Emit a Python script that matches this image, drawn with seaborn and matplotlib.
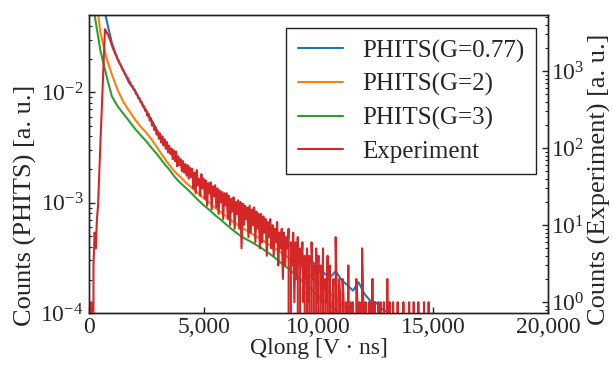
import numpy as np
import pandas as pd
import matplotlib
matplotlib.use("Agg")
import matplotlib.pyplot as plt
import seaborn as sns
from matplotlib.ticker import FuncFormatter, LogLocator, NullFormatter

# ---------------- data ----------------
sim_x = [250, 500, 750, 1000, 1250, 1500, 1750, 2000, 2250, 2500, 2750, 3000, 3250, 3500,
         3750, 4000, 4250, 4500, 4750, 5000, 5250, 5500, 5750, 6000, 6250, 6500, 6750,
         7000, 7250, 7500, 7750, 8000, 8250, 8500, 8750, 9000, 9250, 9500, 9750, 10000,
         10250, 10500, 10750, 11000, 11250, 11500, 11750, 12000, 12250, 12500, 12750,
         13000, 13250]

g077 = [0.2, 0.09, 0.047, 0.028, 0.020, 0.0158, 0.0122, 0.0104, 0.0083, 0.0068, 0.0055,
        0.0044, 0.0037, 0.0031, 0.0027, 0.0023, 0.0020, 0.00182, 0.00162, 0.00148, 0.00132,
        0.00122, 0.00110, 0.00101, 0.00094, 0.00088, 0.00080, 0.00079, 0.00071, 0.00066,
        0.00058, 0.00053, 0.00049, 0.00043, 0.00041, 0.00036, 0.00034, 0.00030, 0.00029,
        0.00026, 0.00023, 0.00021, 0.00024, 0.00020, 0.00018, 0.00016, 0.00019, 0.00015,
        0.00013, 0.000125, 0.00011, 0.000102, 0.00009]

g2_x = sim_x[:47]
g2 = [0.09, 0.035, 0.021, 0.0145, 0.0105, 0.0082, 0.0068, 0.0057, 0.0049, 0.0043, 0.0037,
      0.0031, 0.0026, 0.0022, 0.0019, 0.0017, 0.00150, 0.00136, 0.00122, 0.00110, 0.00100,
      0.00090, 0.00082, 0.00075, 0.00068, 0.00063, 0.00058, 0.00054, 0.00050, 0.00047,
      0.00043, 0.00040, 0.00037, 0.00034, 0.00031, 0.00028, 0.00026, 0.00023, 0.00021,
      0.00019, 0.00017, 0.00015, 0.00014, 0.00012, 0.00011, 0.0001, 0.00009]

g3_x = sim_x[:44]
g3 = [0.05, 0.024, 0.0145, 0.0092, 0.0075, 0.0064, 0.0055, 0.0047, 0.0041, 0.0036, 0.0031,
      0.0027, 0.0023, 0.0020, 0.0017, 0.00150, 0.00135, 0.00120, 0.00106, 0.00095, 0.00086,
      0.00077, 0.00070, 0.00063, 0.00057, 0.00052, 0.00048, 0.00045, 0.00042, 0.00039,
      0.00036, 0.00033, 0.00030, 0.00027, 0.00025, 0.00022, 0.00020, 0.00018, 0.00016,
      0.00014, 0.00013, 0.00012, 0.000105, 0.00009]

exp_x = list(range(0, 15001, 50))
exp_counts = [
    0, 0, 1, 0, 3, 8, 5, 12, 18, 47,
    112, 265, 630, 1480, 3500, 3320, 3080, 2920, 2630, 2420,
    2180, 1950, 1850, 1650, 1580, 1420, 1360, 1230, 1180, 1060,
    1030, 935, 910, 830, 810, 735, 720, 650, 640, 575,
    570, 505, 500, 445, 450, 395, 400, 345, 350, 305,
    310, 262, 280, 228, 245, 196, 215, 172, 190, 150,
    165, 132, 155, 118, 142, 108, 130, 98, 120, 88,
    108, 84, 99, 72, 94, 68, 90, 58, 78, 60,
    72, 50, 68, 48, 62, 44, 60, 40, 56, 42,
    54, 30, 48, 26, 52, 33, 40, 24, 46, 30,
    40, 22, 38, 18, 35, 26, 36, 16, 32, 24,
    33, 17, 30, 14, 28, 20, 27, 12, 26, 18,
    26, 12, 24, 10, 22, 15, 23, 9, 20, 14,
    21, 9, 20, 5, 19, 10, 18, 12, 17, 7,
    18, 8, 16, 10, 17, 6, 15, 9, 14, 5,
    14, 6, 13, 8, 12, 4, 11, 7, 12, 5,
    10, 4, 9, 6, 11, 3, 8, 5, 9, 2,
    8, 3, 7, 5, 9, 0, 6, 3, 8, 1,
    6, 2, 7, 0, 5, 3, 6, 1, 4, 0,
    5, 1, 4, 0, 6, 2, 3, 0, 5, 1,
    4, 0, 3, 1, 5, 0, 2, 1, 4, 0,
    3, 0, 1, 2, 0, 7, 1, 0, 2, 1,
    0, 2, 1, 0, 1, 0, 3, 0, 1, 0,
    1, 0, 0, 2, 1, 0, 1, 0, 5, 1,
    0, 1, 0, 0, 1, 1, 0, 2, 0, 1,
    0, 0, 1, 0, 1, 0, 0, 1, 0, 0,
    2, 0, 1, 0, 0, 1, 0, 0, 0, 1,
    0, 0, 0, 0, 1, 0, 0, 0, 0, 1,
    0, 0, 0, 1, 0, 0, 0, 1, 0, 0,
    0, 0, 1, 0, 0, 0, 1, 0, 0, 0,
    0]

x_ticks = [0, 5000, 10000, 15000, 20000]

# ---------------- style ----------------
sns.set_theme(style="ticks")
plt.rcParams["font.family"] = ["Liberation Serif", "DejaVu Serif"]
plt.rcParams["mathtext.fontset"] = "stix"
plt.rcParams["axes.edgecolor"] = "#222222"
plt.rcParams["axes.linewidth"] = 1.0

FS_TICK = 17
FS_LAB = 19
FS_LEG = 18
fig = plt.figure(figsize=(6.13, 3.68), dpi=100)
ax = fig.add_axes([0.145, 0.149, 0.749, 0.810])
ax2 = ax.twinx()

pal = sns.color_palette("tab10")
df1 = pd.DataFrame({"x": sim_x, "y": g077})
df2 = pd.DataFrame({"x": g2_x, "y": g2})
df3 = pd.DataFrame({"x": g3_x, "y": g3})
dfe = pd.DataFrame({"x": exp_x, "y": exp_counts})

sns.lineplot(data=df1, x="x", y="y", ax=ax, color=pal[0], lw=1.5, label="PHITS(G=0.77)",
             estimator=None, sort=False, legend=False)
sns.lineplot(data=df2, x="x", y="y", ax=ax, color=pal[1], lw=1.5, label="PHITS(G=2)",
             estimator=None, sort=False, legend=False)
sns.lineplot(data=df3, x="x", y="y", ax=ax, color=pal[2], lw=1.5, label="PHITS(G=3)",
             estimator=None, sort=False, legend=False)
sns.lineplot(data=dfe, x="x", y="y", ax=ax2, color=pal[3], lw=1.5, label="Experiment",
             estimator=None, sort=False, legend=False)

ax.set_yscale("log")
ax2.set_yscale("log")
ax.set_xlim(0, 20000)
ax.set_ylim(1e-4, 0.05)
ax2.set_ylim(0.72, 5340)

ax.set_xticks(x_ticks)
ax.xaxis.set_major_formatter(FuncFormatter(lambda v, p: f"{int(v):,}"))

for a in (ax, ax2):
    a.yaxis.set_major_locator(LogLocator(base=10, numticks=10))
    a.yaxis.set_minor_locator(LogLocator(base=10, subs=np.arange(2, 10), numticks=100))
    a.yaxis.set_minor_formatter(NullFormatter())
    a.tick_params(axis="both", which="both", direction="in", labelsize=FS_TICK, color="#222222")
    a.tick_params(which="major", length=4, width=1, pad=3)
    a.tick_params(which="minor", length=2.5, width=0.8)

ax.tick_params(axis="y", which="both", right=False, pad=4)
ax.tick_params(axis="x", top=False)
ax2.tick_params(axis="y", which="both", left=False, right=True, pad=2)

ax.set_xlabel("Qlong [V · ns]", fontsize=FS_TICK, labelpad=0)
ax.set_ylabel("Counts (PHITS) [a. u.]", fontsize=FS_LAB)
ax2.set_ylabel("Counts (Experiment) [a. u.]", fontsize=FS_LAB)
ax.yaxis.set_label_coords(-0.112, 0.36)
ax2.yaxis.set_label_coords(1.087, 0.45)
ax.grid(False)
ax2.grid(False)

h1, l1 = ax.get_legend_handles_labels()
h2, l2 = ax2.get_legend_handles_labels()
leg = ax2.legend(h1 + h2, l1 + l2, loc="upper right", fontsize=FS_LEG, frameon=True,
                 fancybox=False, edgecolor="#222222", framealpha=1,
                 labelspacing=0.42, handlelength=1.8, handletextpad=0.8, borderpad=0.45,
                 borderaxespad=0, bbox_to_anchor=(0.974, 0.956))
leg.get_frame().set_linewidth(1.0)

fig.savefig("out.png", dpi=100)
